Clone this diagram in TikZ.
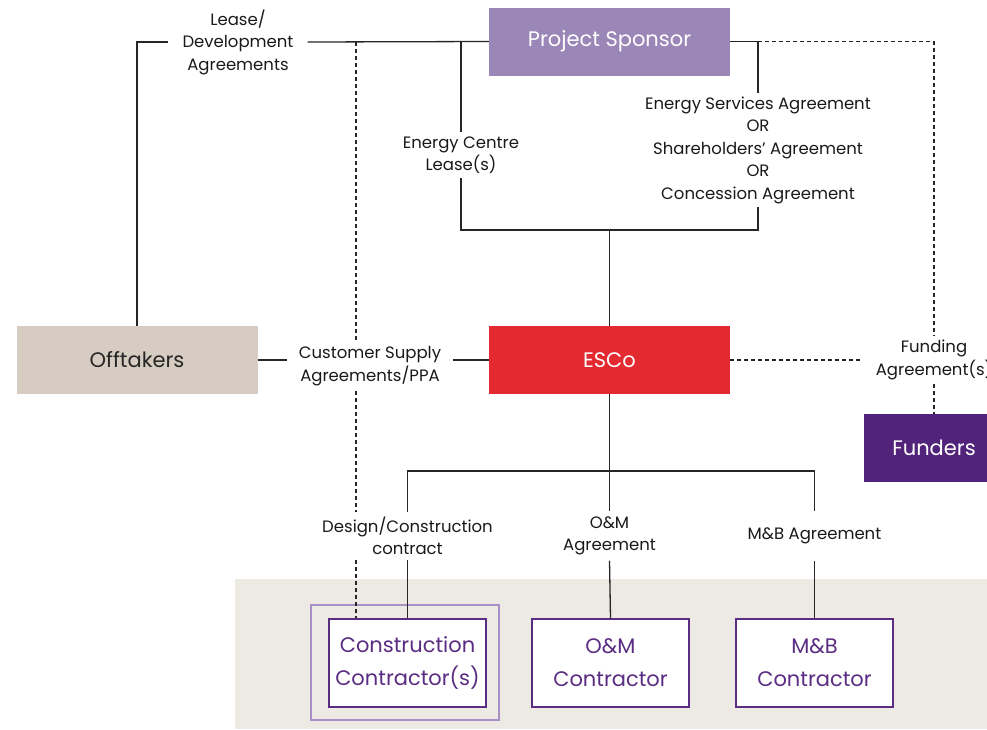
\documentclass[tikz,border=0pt]{standalone}
\usepackage{fontspec}
\setmainfont{Poppins}
\usepackage{xcolor}
\usepackage{tikz}
\usetikzlibrary{positioning}

\definecolor{sponsorlilac}{HTML}{9B86B8}
\definecolor{offtakerbeige}{HTML}{D6CCC1}
\definecolor{escored}{HTML}{E42A31}
\definecolor{funderpurple}{HTML}{52237A}
\definecolor{bandgrey}{HTML}{EDEAE4}
\definecolor{framelilac}{HTML}{A890C4}
\definecolor{contractpurple}{HTML}{5A2D82}

\begin{document}
\begin{tikzpicture}[
    x=1pt, y=-1pt,
    box/.style={rectangle, minimum width=241pt, minimum height=68pt, inner sep=0pt, font=\fontsize{21}{26}\selectfont},
    sponsor/.style={box, fill=sponsorlilac, text=white},
    offtaker/.style={box, fill=offtakerbeige, text=black!85},
    esco/.style={box, fill=escored, text=white},
    funder/.style={box, minimum width=140pt, fill=funderpurple, text=white},
    contractor/.style={rectangle, draw=contractpurple, line width=1.3pt, fill=white, text=contractpurple, minimum width=157pt, minimum height=88pt, align=center, inner sep=0pt, font=\fontsize{21}{33}\selectfont},
    groupframe/.style={rectangle, draw=framelilac, line width=1.3pt, minimum width=188pt, minimum height=115pt},
    agreement/.style={align=center, inner xsep=12pt, inner ysep=5pt, text=black!90, font=\fontsize{16.5}{22.5}\selectfont},
    link/.style={line width=1.3pt, black!85},
    dlink/.style={link, dash pattern=on 4pt off 3pt}
]
\clip (0,0) rectangle (987,729);

% Contractor band
\fill[bandgrey] (235,579) rectangle (987,729);

% Party nodes
\node[sponsor] (sponsor) at (609.5,41.5) {Project Sponsor};
\node[offtaker] (offtakers) at (137,360) {Offtakers};
\node[esco] (esco) at (609.5,360) {ESCo};
\node[funder] (funders) at (934,448) {Funders};

% Contractor nodes
\node[contractor] (cc) at (407.5,663) {Construction\\Contractor(s)};
\node[groupframe] (ccframe) at (405,662.5) {};
\node[contractor] (om) at (610.5,663) {O\&M\\Contractor};
\node[contractor] (mb) at (814.5,663) {M\&B\\Contractor};

% Agreement labels
\node[agreement, inner xsep=14pt] (lease) at (238,42) {Lease/\\Development\\Agreements};
\node[agreement, inner ysep=4pt] (ecl) at (461,155) {Energy Centre\\Lease(s)};
\node[agreement, inner ysep=3pt] (esa) at (758,150) {Energy Services Agreement\\OR\\Shareholders’ Agreement\\OR\\Concession Agreement};
\node[agreement] (csa) at (370,366) {Customer Supply\\Agreements/PPA};
\node[agreement, inner xsep=14pt, inner ysep=4pt] (fund) at (934,360) {Funding\\Agreement(s)};
\node[agreement] (dcc) at (407.5,536) {Design/Construction\\contract};
\node[agreement] (oma) at (609.5,536) {O\&M\\Agreement};
\node[agreement, minimum height=50pt] (mba) at (814.5,536) {M\&B Agreement};

% Junctions
\coordinate (jtop) at (609.5,230);
\coordinate (jbot) at (609.5,471);
\coordinate (dtop) at (356,42);

% Sponsor links
\draw[link] (sponsor.west) -- (lease.east);
\draw[link] (lease.west) -| (offtakers.north);
\draw[link] (sponsor.west -| ecl) -- (ecl.north);
\draw[link] (ecl.south) |- (jtop) -| (esa.south);
\draw[link] (sponsor.east) -| (esa.north);
\draw[link] (jtop) -- (esco.north);
\draw[dlink] (sponsor.east -| esa) -| (fund.north);
\draw[dlink] (fund.south) -- (funders.north);

% Construction dashed link
\draw[dlink] (dtop) -- (dtop |- csa.north);
\draw[dlink] (dtop |- csa.south) -- (dtop |- dcc.north);
\draw[dlink] (dtop |- dcc.south) -- (dtop |- cc.north);

% ESCo links
\draw[link] (offtakers.east) -- (offtakers.east -| csa.west);
\draw[link] (esco.west -| csa.east) -- (esco.west);
\draw[dlink] (esco.east) -- (esco.east -| fund.west);
\draw[link] (esco.south) -- (jbot);
\draw[link] (dcc.north) |- (jbot) -| (mba.north);
\draw[link] (jbot) -- (oma.north);
\draw[link] (dcc.south) -- (cc.north);
\draw[link] (oma.south) -- (om.north);
\draw[link] (mba.south) -- (mb.north);

\end{tikzpicture}
\end{document}
